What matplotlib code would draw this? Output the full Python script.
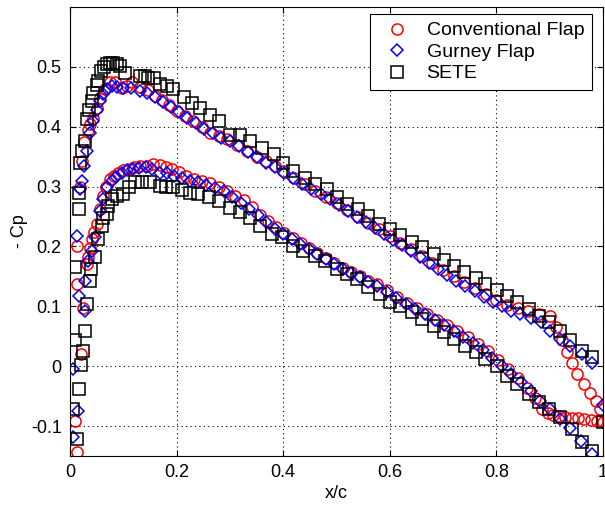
import matplotlib
matplotlib.use("Agg")
import matplotlib.pyplot as plt

# (x/c, -Cp) pairs
conv_upper = [(0.009,-0.091),(0.014,0.2),(0.018,0.3),(0.022,0.343),(0.027,0.375),(0.033,0.395),(0.038,0.405),
    (0.043,0.415),(0.05,0.432),(0.057,0.448),(0.066,0.463),(0.075,0.475),(0.085,0.474),(0.097,0.465),(0.107,0.468),
    (0.116,0.474),(0.131,0.466),(0.147,0.462),(0.16,0.452),(0.172,0.444),(0.185,0.436),(0.2,0.427),(0.215,0.418),
    (0.231,0.41),(0.247,0.4),(0.263,0.39),(0.28,0.385),(0.294,0.38),(0.313,0.37),(0.332,0.36),(0.35,0.35),
    (0.368,0.342),(0.385,0.334),(0.4,0.326),(0.42,0.315),(0.44,0.304),(0.46,0.293),(0.48,0.283),(0.5,0.272),
    (0.52,0.261),(0.54,0.25),(0.56,0.24),(0.58,0.229),(0.6,0.218),(0.62,0.206),(0.64,0.195),(0.66,0.184),
    (0.68,0.172),(0.7,0.161),(0.72,0.15),(0.74,0.14),(0.76,0.13),(0.78,0.12),(0.8,0.111),(0.82,0.103),
    (0.84,0.097),(0.86,0.092),(0.88,0.088),(0.9,0.084),(0.912,0.065),(0.923,0.043),(0.933,0.023),(0.942,0.006),
    (0.952,-0.013),(0.964,-0.03),(0.975,-0.044),(0.986,-0.058),(0.995,-0.071)]
conv_lower = [(0.0125,-0.144),(0.02,0.021),(0.025,0.098),(0.0125,0.138),(0.031,0.17),(0.034,0.182),(0.038,0.197),
    (0.041,0.212),(0.045,0.225),(0.05,0.237),(0.056,0.262),(0.0625,0.285),(0.068,0.3),(0.075,0.313),(0.082,0.318),
    (0.09,0.322),(0.1,0.327),(0.11,0.33),(0.12,0.332),(0.132,0.334),(0.144,0.335),(0.156,0.337),(0.168,0.336),
    (0.18,0.333),(0.192,0.329),(0.204,0.325),(0.218,0.318),(0.232,0.313),(0.248,0.309),(0.263,0.306),(0.279,0.3),
    (0.294,0.293),(0.31,0.285),(0.326,0.277),(0.342,0.266),(0.357,0.253),(0.372,0.243),(0.387,0.233),(0.402,0.223),
    (0.418,0.214),(0.433,0.206),(0.448,0.198),(0.464,0.189),(0.48,0.18),(0.496,0.172),(0.512,0.164),(0.528,0.157),
    (0.544,0.15),(0.56,0.143),(0.576,0.137),(0.594,0.127),(0.613,0.116),(0.632,0.106),(0.651,0.097),(0.67,0.088),
    (0.689,0.078),(0.708,0.068),(0.727,0.058),(0.746,0.048),(0.765,0.037),(0.784,0.025),(0.803,0.011),(0.822,-0.004),
    (0.841,-0.02),(0.858,-0.036),(0.873,-0.053),(0.886,-0.071),(0.897,-0.078),(0.907,-0.082),(0.918,-0.083),
    (0.929,-0.085),(0.941,-0.086),(0.953,-0.087),(0.965,-0.088),(0.977,-0.09),(0.989,-0.091),(1.0,-0.093)]

gurney_upper = [(0.006,-0.119),(0.006,-0.004),(0.0125,0.218),(0.019,0.296),(0.023,0.31),(0.027,0.335),(0.031,0.36),
    (0.0376,0.39),(0.043,0.41),(0.05,0.428),(0.056,0.443),(0.062,0.455),(0.07,0.463),(0.078,0.468),(0.088,0.467),
    (0.1,0.465),(0.114,0.465),(0.131,0.46),(0.145,0.456),(0.16,0.449),(0.175,0.441),(0.19,0.433),(0.205,0.424),
    (0.22,0.415),(0.236,0.407),(0.252,0.397),(0.268,0.389),(0.284,0.382),(0.3,0.376),(0.317,0.367),(0.334,0.358),
    (0.351,0.349),(0.368,0.34),(0.385,0.332),(0.402,0.323),(0.419,0.314),(0.436,0.305),(0.453,0.296),(0.47,0.288),
    (0.487,0.279),(0.504,0.269),(0.521,0.259),(0.538,0.25),(0.555,0.241),(0.572,0.231),(0.589,0.221),(0.606,0.211),
    (0.623,0.202),(0.64,0.192),(0.657,0.182),(0.674,0.172),(0.691,0.162),(0.708,0.153),(0.725,0.143),(0.742,0.134),
    (0.759,0.125),(0.776,0.116),(0.793,0.108),(0.81,0.1),(0.827,0.093),(0.845,0.087),(0.864,0.081),(0.883,0.074),
    (0.901,0.058),(0.92,0.045),(0.939,0.034),(0.961,0.02),(0.98,0.006),(1.0,-0.064)]
gurney_lower = [(0.015,-0.074),(0.016,0.118),(0.028,0.093),(0.028,0.143),(0.034,0.175),(0.041,0.193),(0.047,0.215),
    (0.056,0.259),(0.062,0.28),(0.07,0.3),(0.078,0.31),(0.087,0.316),(0.097,0.322),(0.107,0.327),(0.118,0.33),
    (0.13,0.331),(0.142,0.332),(0.154,0.33),(0.169,0.323),(0.182,0.322),(0.196,0.318),(0.21,0.315),(0.225,0.31),
    (0.24,0.307),(0.256,0.303),(0.272,0.298),(0.288,0.292),(0.304,0.283),(0.32,0.273),(0.336,0.262),(0.352,0.252),
    (0.368,0.241),(0.384,0.23),(0.4,0.22),(0.416,0.212),(0.432,0.204),(0.448,0.196),(0.464,0.187),(0.48,0.179),
    (0.496,0.171),(0.512,0.163),(0.528,0.156),(0.544,0.149),(0.56,0.141),(0.576,0.134),(0.594,0.124),(0.612,0.114),
    (0.63,0.104),(0.648,0.095),(0.666,0.087),(0.684,0.078),(0.702,0.069),(0.72,0.059),(0.738,0.049),(0.756,0.039),
    (0.774,0.027),(0.792,0.014),(0.81,0.001),(0.828,-0.013),(0.846,-0.027),(0.864,-0.042),(0.882,-0.058),
    (0.901,-0.072),(0.92,-0.088),(0.939,-0.104),(0.958,-0.125),(0.98,-0.146)]

sete_upper = [(0.006,-0.071),(0.009,0.165),(0.016,0.263),(0.016,0.29),(0.019,0.34),(0.022,0.36),(0.028,0.376),
    (0.031,0.413),(0.036,0.428),(0.041,0.443),(0.044,0.457),(0.05,0.47),(0.053,0.477),(0.058,0.493),(0.064,0.5),
    (0.069,0.504),(0.075,0.506),(0.081,0.507),(0.088,0.505),(0.094,0.502),(0.103,0.49),(0.131,0.485),(0.14,0.484),
    (0.147,0.482),(0.157,0.481),(0.169,0.471),(0.182,0.468),(0.194,0.463),(0.213,0.449),(0.228,0.44),(0.244,0.432),
    (0.262,0.42),(0.279,0.41),(0.3,0.387),(0.319,0.386),(0.338,0.376),(0.36,0.365),(0.382,0.354),(0.4,0.34),
    (0.419,0.326),(0.441,0.315),(0.46,0.304),(0.482,0.296),(0.501,0.282),(0.52,0.271),(0.541,0.262),(0.56,0.251),
    (0.579,0.237),(0.601,0.229),(0.62,0.219),(0.642,0.208),(0.66,0.199),(0.682,0.188),(0.701,0.178),(0.72,0.168),
    (0.739,0.158),(0.761,0.148),(0.779,0.138),(0.801,0.128),(0.82,0.118),(0.839,0.107),(0.861,0.095),(0.879,0.084),
    (0.898,0.073),(0.92,0.059),(0.939,0.043),(0.961,0.026),(0.98,0.015),(1.0,-0.094)]
sete_lower = [(0.014,-0.121),(0.0175,-0.038),(0.02,0.0025),(0.009,0.043),(0.025,0.026),(0.028,0.059),(0.031,0.104),
    (0.0376,0.143),(0.04,0.163),(0.047,0.182),(0.053,0.212),(0.0595,0.2345),(0.0625,0.248),(0.069,0.254),
    (0.072,0.268),(0.078,0.279),(0.088,0.285),(0.1,0.2875),(0.11,0.2985),(0.122,0.307),(0.136,0.308),(0.15,0.307),
    (0.169,0.301),(0.181,0.3),(0.194,0.2985),(0.21,0.294),(0.225,0.29),(0.241,0.2875),(0.26,0.282),(0.279,0.276),
    (0.3,0.265),(0.319,0.257),(0.338,0.248),(0.357,0.235),(0.379,0.221),(0.397,0.215),(0.419,0.201),(0.438,0.193),
    (0.46,0.184),(0.479,0.176),(0.501,0.162),(0.52,0.154),(0.538,0.1455),(0.56,0.1315),(0.582,0.1205),(0.601,0.1065),
    (0.62,0.101),(0.642,0.09),(0.66,0.079),(0.682,0.0676),(0.701,0.0564),(0.72,0.045),(0.742,0.034),(0.761,0.023),
    (0.779,0.012),(0.801,0.001),(0.82,-0.016),(0.839,-0.03),(0.861,-0.046),(0.879,-0.06),(0.898,-0.071),
    (0.92,-0.085),(0.942,-0.105),(0.961,-0.127),(0.98,-0.141)]

series_labels = ["Conventional Flap", "Gurney Flap", "SETE"]
x_ticks = [0, 0.2, 0.4, 0.6, 0.8, 1]
y_ticks = [-0.1, 0, 0.1, 0.2, 0.3, 0.4, 0.5]

plt.rcParams['font.family'] = ['Liberation Sans', 'DejaVu Sans']
plt.rcParams['font.size'] = 13

fig = plt.figure(figsize=(6.05, 5.07), dpi=100)
ax = fig.add_axes([70/605, 51/507, 533/605, 449/507])

styles = [dict(marker='o', mec='red', ms=8), dict(marker='D', mec='blue', ms=6.5), dict(marker='s', mec='black', ms=8)]
groups = [(conv_upper, conv_lower), (gurney_upper, gurney_lower), (sete_upper, sete_lower)]
for (up, lo), st, lab in zip(groups, styles, series_labels):
    pts = up + lo
    xs = [p[0] for p in pts]
    ys = [p[1] for p in pts]
    ax.plot(xs, ys, linestyle='none', marker=st['marker'], mfc='none', mec=st['mec'],
            ms=st['ms'], mew=1.1, label=lab, clip_on=True)

ax.set_xlim(0, 1)
ax.set_ylim(-0.15, 0.6)
ax.set_xticks(x_ticks)
ax.set_xticklabels(['0', '0.2', '0.4', '0.6', '0.8', '1'])
ax.set_yticks(y_ticks)
ax.set_yticklabels(['-0.1', '0', '0.1', '0.2', '0.3', '0.4', '0.5'])
ax.tick_params(direction='in', top=True, right=True, length=4, width=0.8, pad=6)
ax.grid(True, linestyle=(0, (1, 3)), color='black', linewidth=0.8)
for s in ax.spines.values():
    s.set_linewidth(0.8)
ax.set_xlabel('x/c', labelpad=3)
ax.set_ylabel('- Cp', labelpad=2)

leg = ax.legend(loc='upper right', bbox_to_anchor=(592/605, 493/507), bbox_transform=fig.transFigure,
                borderaxespad=0, fancybox=False, edgecolor='black', framealpha=1, handletextpad=0.5,
                labelspacing=0.2, handlelength=2.0, borderpad=0.4, fontsize=14)
leg.get_frame().set_linewidth(0.8)

fig.savefig('out.png', dpi=100)
